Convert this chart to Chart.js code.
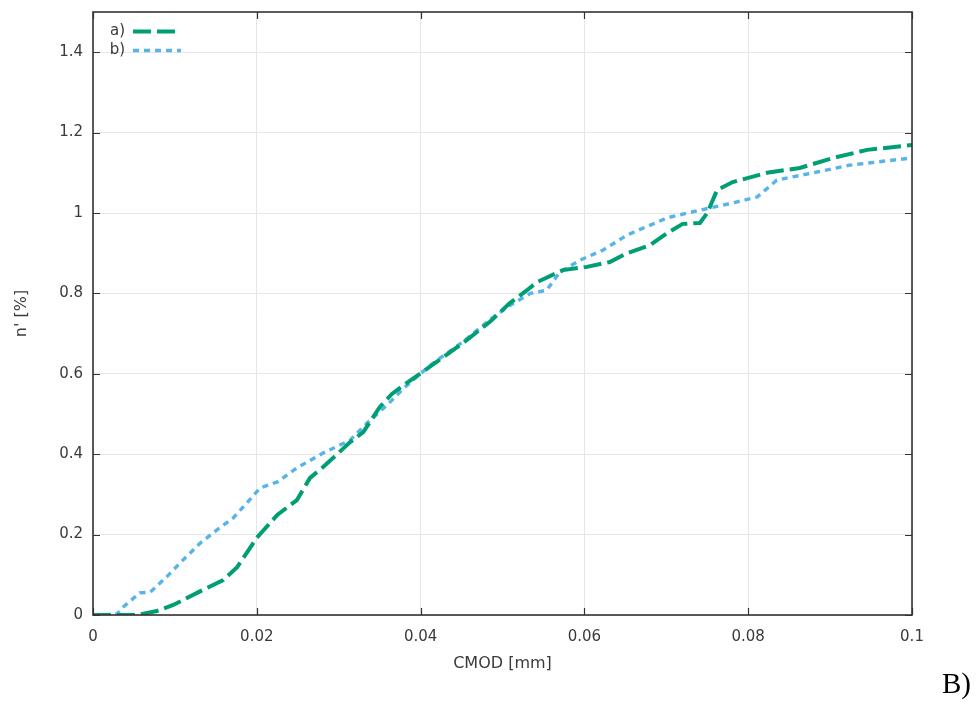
<!DOCTYPE html>
<html>
<head>
<meta charset="utf-8">
<script src="https://cdn.jsdelivr.net/npm/chart.js@4.4.0/dist/chart.umd.min.js"></script>
<style>
  html, body { margin: 0; padding: 0; background: #ffffff; }
  #wrap { position: relative; width: 977px; height: 702px; }
</style>
</head>
<body>
<div id="wrap"><canvas id="c" width="977" height="702"></canvas></div>
<script>
// ---- data ----
const seriesNames = ['a)', 'b)'];
const xA = [0, 0.0054, 0.0078, 0.0098, 0.0127, 0.0159, 0.0176, 0.0200, 0.0225, 0.0249, 0.0265, 0.0281, 0.0314, 0.0330, 0.0350, 0.0365, 0.0385, 0.0411, 0.0452, 0.0485, 0.0509, 0.0530, 0.0542, 0.0574, 0.0603, 0.0631, 0.0652, 0.0680, 0.0701, 0.0720, 0.0741, 0.0750, 0.0762, 0.0781, 0.0823, 0.0863, 0.0904, 0.0945, 0.1000];
const yA = [0, 0, 0.010, 0.025, 0.055, 0.087, 0.119, 0.192, 0.249, 0.286, 0.341, 0.368, 0.430, 0.455, 0.517, 0.550, 0.580, 0.617, 0.677, 0.730, 0.776, 0.808, 0.828, 0.858, 0.866, 0.878, 0.900, 0.920, 0.950, 0.973, 0.975, 1.000, 1.057, 1.077, 1.100, 1.112, 1.137, 1.157, 1.169];
const xB = [0, 0.0029, 0.0037, 0.0057, 0.0070, 0.0090, 0.0110, 0.0131, 0.0151, 0.0171, 0.0188, 0.0204, 0.0225, 0.0249, 0.0281, 0.0314, 0.0335, 0.0359, 0.0380, 0.0411, 0.0452, 0.0485, 0.0509, 0.0534, 0.0554, 0.0570, 0.0595, 0.0623, 0.0652, 0.0701, 0.0741, 0.0781, 0.0811, 0.0835, 0.0884, 0.0924, 0.1000];
const yB = [0, 0.002, 0.020, 0.055, 0.057, 0.095, 0.137, 0.179, 0.211, 0.241, 0.279, 0.316, 0.331, 0.366, 0.403, 0.435, 0.478, 0.522, 0.565, 0.620, 0.680, 0.735, 0.770, 0.800, 0.808, 0.853, 0.883, 0.908, 0.945, 0.988, 1.007, 1.025, 1.040, 1.082, 1.102, 1.119, 1.137];
const xTickVals = [0, 0.02, 0.04, 0.06, 0.08, 0.1];
const xTickLabels = ['0', '0.02', '0.04', '0.06', '0.08', '0.1'];
const yTickVals = [0, 0.2, 0.4, 0.6, 0.8, 1, 1.2, 1.4];
const yTickLabels = ['0', '0.2', '0.4', '0.6', '0.8', '1', '1.2', '1.4'];
const xTitle = 'CMOD [mm]';
const yTitle = "n' [%]";
const panelLabel = 'B)';

const FONT = "'DejaVu Sans', sans-serif";
const TXT = '#3a3a3a';

const toPts = (xs, ys) => xs.map((x, i) => ({ x: x, y: ys[i] }));

const framePlugin = {
  id: 'frame',
  afterDraw(chart) {
    const { ctx, chartArea: a, scales } = chart;
    ctx.save();
    // inward ticks on all four sides
    ctx.strokeStyle = '#333';
    ctx.lineWidth = 1.2;
    const tl = 7;
    ctx.beginPath();
    xTickVals.forEach(v => {
      const px = Math.round(scales.x.getPixelForValue(v)) + 0.5;
      ctx.moveTo(px, a.bottom); ctx.lineTo(px, a.bottom - tl);
      ctx.moveTo(px, a.top); ctx.lineTo(px, a.top + tl);
    });
    yTickVals.forEach(v => {
      const py = Math.round(scales.y.getPixelForValue(v)) + 0.5;
      ctx.moveTo(a.left, py); ctx.lineTo(a.left + tl, py);
      ctx.moveTo(a.right, py); ctx.lineTo(a.right - tl, py);
    });
    ctx.stroke();
    // frame
    ctx.lineWidth = 1.6;
    ctx.strokeStyle = '#333';
    ctx.strokeRect(a.left, a.top, a.right - a.left, a.bottom - a.top);

    // legend (text then sample, inside top-left)
    ctx.font = '15px ' + FONT;
    ctx.fillStyle = TXT;
    ctx.textAlign = 'right';
    ctx.textBaseline = 'middle';
    const rows = [31, 50];
    chart.data.datasets.forEach((ds, i) => {
      const y = rows[i];
      ctx.fillText(ds.label, 125, y);
      ctx.save();
      ctx.strokeStyle = ds.borderColor;
      ctx.lineWidth = ds.borderWidth;
      ctx.setLineDash(ds.borderDash);
      ctx.beginPath();
      ctx.moveTo(133, y + 0.5);
      ctx.lineTo(181, y + 0.5);
      ctx.stroke();
      ctx.restore();
    });

    // panel label
    ctx.font = '29px "Liberation Serif", "DejaVu Serif", serif';
    ctx.fillStyle = '#000';
    ctx.textAlign = 'left';
    ctx.textBaseline = 'alphabetic';
    ctx.fillText(panelLabel, 942, 693);
    ctx.restore();
  }
};

new Chart(document.getElementById('c'), {
  type: 'line',
  data: {
    datasets: [
      {
        label: seriesNames[0],
        data: toPts(xA, yA),
        borderColor: '#009e73',
        borderWidth: 4,
        borderDash: [18, 6],
        borderCapStyle: 'butt',
        pointRadius: 0,
        tension: 0,
        fill: false
      },
      {
        label: seriesNames[1],
        data: toPts(xB, yB),
        borderColor: '#56b4e9',
        borderWidth: 3.4,
        borderDash: [6, 5],
        borderCapStyle: 'butt',
        pointRadius: 0,
        tension: 0,
        fill: false
      }
    ]
  },
  options: {
    responsive: false,
    animation: false,
    devicePixelRatio: 1,
    layout: { padding: { left: 0, right: 65, top: 12, bottom: 0 } },
    plugins: { legend: { display: false }, tooltip: { enabled: false } },
    scales: {
      x: {
        type: 'linear',
        min: 0, max: 0.1,
        afterFit(s) { s.height = 87; s.paddingLeft = 0; s.paddingRight = 0; },
        afterBuildTicks(s) { s.ticks = xTickVals.map(v => ({ value: v })); },
        grid: { color: '#e6e6e6', lineWidth: 1, drawTicks: false },
        border: { display: false },
        ticks: {
          padding: 13,
          maxRotation: 0,
          autoSkip: false,
          color: TXT,
          font: { family: FONT, size: 15 },
          callback: (v, i) => xTickLabels[i]
        },
        title: {
          display: true,
          text: xTitle,
          color: TXT,
          font: { family: FONT, size: 16 },
          padding: { top: 0, bottom: 29 }
        }
      },
      y: {
        type: 'linear',
        min: 0, max: 1.5,
        afterFit(s) { s.width = 93; s.paddingTop = 0; s.paddingBottom = 0; },
        afterBuildTicks(s) { s.ticks = yTickVals.map(v => ({ value: v })); },
        grid: { color: '#e6e6e6', lineWidth: 1, drawTicks: false },
        border: { display: false },
        ticks: {
          padding: 10,
          autoSkip: false,
          color: TXT,
          font: { family: FONT, size: 15 },
          callback: (v, i) => yTickLabels[i]
        },
        title: {
          display: true,
          text: yTitle,
          color: TXT,
          font: { family: FONT, size: 16 },
          padding: { top: 12, bottom: 0 }
        }
      }
    }
  },
  plugins: [framePlugin]
});
</script>
</body>
</html>
